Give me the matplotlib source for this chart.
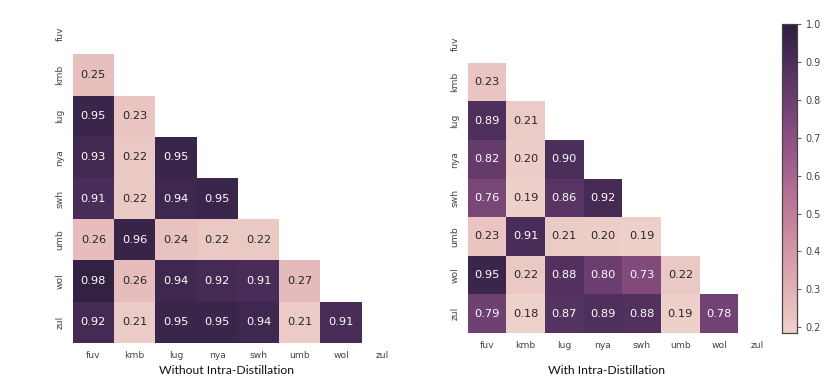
import numpy as np
import matplotlib
matplotlib.use("Agg")
import matplotlib.pyplot as plt
import seaborn as sns

langs = ["fuv", "kmb", "lug", "nya", "swh", "umb", "wol", "zul"]

# lower triangle, row by row (kmb .. zul), columns fuv .. previous language
without_rows = [
    [0.25],
    [0.95, 0.23],
    [0.93, 0.22, 0.95],
    [0.91, 0.22, 0.94, 0.95],
    [0.26, 0.96, 0.24, 0.22, 0.22],
    [0.98, 0.26, 0.94, 0.92, 0.91, 0.27],
    [0.92, 0.21, 0.95, 0.95, 0.94, 0.21, 0.91],
]
with_rows = [
    [0.23],
    [0.89, 0.21],
    [0.82, 0.20, 0.90],
    [0.76, 0.19, 0.86, 0.92],
    [0.23, 0.91, 0.21, 0.20, 0.19],
    [0.95, 0.22, 0.88, 0.80, 0.73, 0.22],
    [0.79, 0.18, 0.87, 0.89, 0.88, 0.19, 0.78],
]


def to_matrix(rows):
    n = len(langs)
    m = np.full((n, n), np.nan)
    for i, r in enumerate(rows, start=1):
        m[i, :len(r)] = r
    return m


W, H = 832, 379
fig = plt.figure(figsize=(W / 100, H / 100), dpi=100)

def px_axes(x0, y0, x1, y1):
    return fig.add_axes([x0 / W, 1 - y1 / H, (x1 - x0) / W, (y1 - y0) / H])

ax1 = px_axes(72.7, 13.1, 403, 342.7)
ax2 = px_axes(467.7, 24, 777, 333)
cax = px_axes(781.7, 24, 796.7, 333)

cmap = sns.cubehelix_palette(as_cmap=True)
mask = np.triu(np.ones((8, 8), dtype=bool))

for ax, rows, title, tx in [(ax1, without_rows, "Without Intra-Distillation", 227),
                            (ax2, with_rows, "With Intra-Distillation", 607)]:
    data = to_matrix(rows)
    sns.heatmap(data, mask=mask, cmap=cmap, vmin=0.185, vmax=1.0, annot=True, fmt=".2f",
                annot_kws={"fontsize": 8.2}, xticklabels=langs, yticklabels=langs,
                cbar=(ax is ax2), cbar_ax=cax if ax is ax2 else None, ax=ax)
    ax.tick_params(length=0, labelsize=6.6, labelcolor="#444444", pad=6)
    ax.set_yticklabels(langs, rotation=90, va="center")
    ax.set_xticklabels(langs, rotation=0)
    fig.text(tx / W, 1 - 370 / H, title, ha="center", va="center",
             fontsize=8.8, family="Lato", color="#111111")

cax.tick_params(labelsize=7, labelcolor="#444444", length=3, width=0.6, color="#444444")
cax.set_yticks([0.2, 0.3, 0.4, 0.5, 0.6, 0.7, 0.8, 0.9, 1.0])
for s in cax.spines.values():
    s.set_visible(True)
    s.set_linewidth(0.8)
    s.set_edgecolor("#444444")

fig.savefig("out.png", dpi=100)
